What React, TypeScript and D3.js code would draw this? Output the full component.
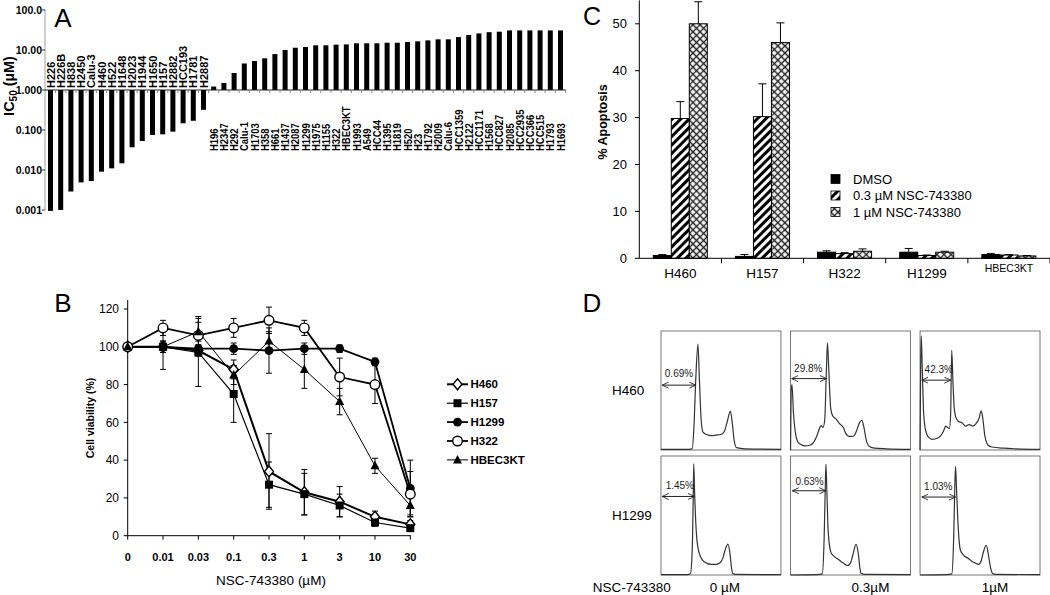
import React from "react";
import * as d3 from "d3";

const FONT = "'Liberation Sans', Arial, Helvetica, sans-serif";

// ---------------- Panel A data ----------------
const sensitiveLines = ["H226","H226B","H838","H2450","Calu-3","H460","H522","H1648","H2023","H1944","H1650","H157","H2882","HCC193","H1781","H2887"];
const sensitiveIC50 = [0.00095,0.001,0.0029,0.0049,0.0053,0.0091,0.011,0.0147,0.037,0.053,0.075,0.078,0.091,0.147,0.17,0.32];
const resistantLines = ["H196","H2347","H292","Calu-1","H1703","H358","H661","H1437","H2087","H1299","H1975","H1155","H322","HBEC3KT","H1993","A549","HCC44","H1395","H1819","H520","H23","H1792","H2009","Calu-6","HCC1359","H2122","HCC1171","H1568","HCC827","H2085","HCC2935","HCC366","HCC515","H1793","H1693"];
const resistantIC50 = [1.22,1.5,2.66,4.6,5.3,6.2,7.9,10,11.4,11.9,13.1,13.1,13.6,13.8,14.7,14.7,14.7,15.2,15.2,15.8,16.5,17.4,18.5,18.5,21,23.7,26,27.9,28.7,30.9,30.9,30.9,30.9,30.9,30.9];
const icTicks = [100, 10, 1, 0.1, 0.01, 0.001];
const icTickLabels = ["100.0","10.00","1.000","0.100","0.010","0.001"];

// ---------------- Panel B data ----------------
const doseLabels = ["0","0.01","0.03","0.1","0.3","1","3","10","30"];
const viabH460 = [100,100,98,88,34,23,18,10,6];
const errH460 = [0,3,3,5,20,12,8,3,2];
const viabH157 = [100,100,97,75,27,22,16,7,4];
const errH157 = [0,12,18,15,12,11,6,2,1];
const viabH1299 = [100,100,99,99,98,99,99,92,25];
const errH1299 = [0,2,2,3,12,3,2,2,15];
const viabH322 = [100,110,106,110,114,110,84,80,22];
const errH322 = [0,4,10,5,7,4,10,10,12];
const viabHBEC = [100,100,108,85,103,88,71,37,16];
const errHBEC = [0,3,5,5,5,10,7,4,5];
const viabTicks = [0,20,40,60,80,100,120];

// ---------------- Panel C data ----------------
const apoCells = ["H460","H157","H322","H1299","HBEC3KT"];
const apoTreatments = ["DMSO","0.3 µM NSC-743380","1 µM NSC-743380"];
const apoDMSO = [0.6,0.4,1.3,1.3,0.8];
const apoLow = [29.8,30.2,1.0,0.6,0.7];
const apoHigh = [50,46,1.5,1.3,0.5];
const apoDMSOErr = [0.2,0.4,0.3,0.8,0.2];
const apoLowErr = [3.6,7,0.2,0.1,0.1];
const apoHighErr = [4.7,4.2,0.5,0.2,0.1];
const apoTicks = [0,10,20,30,40,50];

// ---------------- Panel D data (DNA content %, count %) ----------------
const histRows = ["H460","H1299"];
const histCols = ["0 µM","0.3µM","1µM"];
const histH460_0: [number, number][] = [[0,0.5],[20,0.5],[26,1],[27.5,20],[29,60],[30.8,89],[32,60],[33.5,25],[35,15],[38,13],[42,12],[46,12.5],[50,13],[53,16],[55.5,25],[57.8,32.7],[59.5,22],[61,8],[63,2],[70,1],[100,0.5]];
const histH460_03: [number, number][] = [[0,0],[0.5,50],[1.2,55],[2.5,30],[4,15],[6,7],[8,5],[12,3.5],[16,4],[19,6],[22,12],[24.5,19],[25.5,20.6],[27,19],[28.5,25],[29.7,60],[30.8,90],[32,65],[33.5,35],[35,29],[38,26],[41,22],[44,19],[46,14],[48.7,11.5],[51,11.5],[53,12],[55,16],[57.5,23],[59.5,25],[61,20],[63,9],[65.8,3],[70,1.5],[80,1],[100,0.5]];
const histH460_1: [number, number][] = [[0,0],[0.5,70],[1,96],[1.8,70],[2.8,35],[4,20],[5.7,13],[8,10],[10,9],[13,9.5],[16,11],[18,13],[20,17],[21.3,20],[23,19],[24.5,18],[25.5,30],[26.4,83.8],[27.5,55],[28.5,35],[29.8,27.6],[32,24],[35,23],[38,20],[41,21.4],[44,20],[46.5,22],[49,26],[51,32.8],[52.5,25],[54,12],[56.8,4],[60,2.5],[70,1.5],[80,1],[100,0.5]];
const histH1299_0: [number, number][] = [[0,0.3],[22,0.3],[24.5,1],[26,20],[26.8,60],[27.3,93.5],[28,70],[29.5,35],[31,22],[32.9,15.6],[35,12],[38,10],[42,9],[46,9],[49,10],[51.5,14],[53.5,21],[55.8,26],[57.5,18],[58.8,6],[59.7,1.5],[62,0.5],[100,0.3]];
const histH1299_03: [number, number][] = [[0,0],[22,0.3],[26.5,1],[28,30],[29,75],[29.5,93],[30.3,70],[31.5,35],[33.7,19],[36,16],[40,13],[44,10],[47.6,8],[50,10],[52,17],[54.6,25.8],[56.5,18],[57.8,6],[58.8,1.5],[62,0.5],[100,0.3]];
const histH1299_1: [number, number][] = [[0,0],[22,0.3],[26.5,1],[28,30],[29,75],[29.6,91.4],[30.5,70],[31.8,40],[33.6,21],[36,17],[40,14],[44,11],[48.9,9],[51,12],[53,20],[55.2,25],[57,17],[58.8,6],[60.3,1.5],[63,0.5],[100,0.3]];
const subG1Labels = ["0.69%","29.8%","42.3%","1.45%","0.63%","1.03%"];
// label position (x%, y%) and arrow (from x%, to x%, at y%)
const subG1LabelPos: [number, number][] = [[15,64.5],[14.8,68.8],[15.6,67.5],[15.7,75],[15.9,78.8],[15.2,74.6]];
const subG1Arrows: [number, number, number][] = [[1,29,54.5],[1,30,60],[1.5,25.6,58.7],[1,27.9,66],[1.5,29.5,70.8],[1.5,29.6,65.5]];

type MarkerType = "diamond" | "square" | "dot" | "circle" | "triangle";

function Marker({ type, x, y }: { type: MarkerType; x: number; y: number }) {
  switch (type) {
    case "diamond":
      return <path d={`M${x},${y - 5.5}L${x + 4.5},${y}L${x},${y + 5.5}L${x - 4.5},${y}Z`} fill="white" stroke="black" strokeWidth={1.4} />;
    case "square":
      return <rect x={x - 4} y={y - 4} width={8} height={8} fill="black" />;
    case "dot":
      return <circle cx={x} cy={y} r={4.4} fill="black" />;
    case "circle":
      return <circle cx={x} cy={y} r={4.8} fill="white" stroke="black" strokeWidth={1.4} />;
    case "triangle":
      return <path d={`M${x},${y - 5}L${x + 4.5},${y + 3.5}L${x - 4.5},${y + 3.5}Z`} fill="black" />;
  }
  return null;
}

export default function App() {
  // ===== Panel A =====
  const allLines = [...sensitiveLines, ...resistantLines];
  const allIC50 = [...sensitiveIC50, ...resistantIC50];
  const xA = d3.scalePoint<string>().domain(allLines).range([50.5, 560.5]);
  const yA = d3.scaleLog().domain([0.001, 100]).range([210, 10]);
  const stepA = xA.step();
  const barWA = 5;
  const y1 = yA(1);

  // ===== Panel B =====
  const xB = d3.scalePoint<string>().domain(doseLabels).range([127.7, 410.3]);
  const yB = d3.scaleLinear().domain([0, 120]).range([535.7, 309]);
  const seriesB: { name: string; v: number[]; e: number[]; m: MarkerType; w: number }[] = [
    { name: "H460", v: viabH460, e: errH460, m: "diamond", w: 2 },
    { name: "H157", v: viabH157, e: errH157, m: "square", w: 1.2 },
    { name: "H1299", v: viabH1299, e: errH1299, m: "dot", w: 1.8 },
    { name: "H322", v: viabH322, e: errH322, m: "circle", w: 1.8 },
    { name: "HBEC3KT", v: viabHBEC, e: errHBEC, m: "triangle", w: 1 },
  ];
  const lineB = d3.line<number>().x((_, i) => xB(doseLabels[i])!).y((d) => yB(d));

  // ===== Panel C =====
  const xC = d3.scaleBand<string>().domain(apoCells).range([639.3, 1050]);
  const xCi = d3.scaleBand<string>().domain(apoTreatments).range([14, 68]);
  const yC = d3.scaleLinear().domain([0, 55]).range([258.3, 0.35]);
  const apoVals = [apoDMSO, apoLow, apoHigh];
  const apoErrs = [apoDMSOErr, apoLowErr, apoHighErr];
  const apoFills = ["black", "url(#hatch)", "url(#cross)"];

  // ===== Panel D =====
  const xD = d3.scaleBand<string>().domain(histCols).range([661, 1040]).paddingInner(0.074);
  const yD = d3.scaleBand<string>().domain(histRows).range([331, 575]).paddingInner(0.048);
  const hists = [histH460_0, histH460_03, histH460_1, histH1299_0, histH1299_03, histH1299_1];
  const colLabelOffsets = [4, 20, 15];

  return (
    <svg width={1050} height={595} style={{ position: "absolute", left: 0, top: 0, background: "white" }} fontFamily={FONT}>
      <defs>
        <pattern id="hatch" patternUnits="userSpaceOnUse" width={6} height={6} patternTransform="rotate(45)">
          <rect width={6} height={6} fill="white" />
          <line x1={1.5} y1={0} x2={1.5} y2={6} stroke="black" strokeWidth={3} />
        </pattern>
        <pattern id="cross" patternUnits="userSpaceOnUse" width={5} height={5} patternTransform="rotate(45)">
          <rect width={5} height={5} fill="white" />
          <path d="M0,2.5H5M2.5,0V5" stroke="#222" strokeWidth={1.3} />
        </pattern>
        <marker id="arrowhead" viewBox="0 0 8 8" refX={7.5} refY={4} markerWidth={7} markerHeight={7} orient="auto-start-reverse" markerUnits="userSpaceOnUse">
          <path d="M0,0.5L7.5,4L0,7.5" fill="none" stroke="#222" strokeWidth={1} />
        </marker>
      </defs>

      {/* ================= Panel A ================= */}
      <g>
        <text x={63} y={27} fontSize={26} textAnchor="middle">A</text>
        <line x1={45} x2={45} y1={yA(100)} y2={yA(0.001)} stroke="#888" strokeWidth={0.8} />
        {icTicks.map((t, i) => (
          <g key={t}>
            <line x1={42} x2={45} y1={yA(t)} y2={yA(t)} stroke="#333" strokeWidth={1} />
            <text x={42} y={yA(t)} dy="0.35em" textAnchor="end" fontSize={10.5} fontWeight="bold">{icTickLabels[i]}</text>
          </g>
        ))}
        <text transform={`translate(14,86) rotate(-90)`} textAnchor="middle" fontSize={14.5} fontWeight="bold">
          IC<tspan fontSize={10} dy={3}>50</tspan><tspan dy={-3}> (µM)</tspan>
        </text>
        {allLines.map((name, i) => {
          const v = allIC50[i];
          const cx = xA(name)!;
          const yv = yA(v);
          return (
            <rect key={name} x={cx - barWA / 2} width={barWA} y={Math.min(yv, y1)} height={Math.abs(yv - y1)} fill="black" />
          );
        })}
        <line x1={45} x2={566} y1={y1} y2={y1} stroke="#222" strokeWidth={1.2} />
        {allLines.map((name) => (
          <line key={"t" + name} x1={xA(name)! + stepA / 2} x2={xA(name)! + stepA / 2} y1={y1} y2={y1 + 3} stroke="#888" strokeWidth={1} />
        ))}
        {allLines.map((name, i) => {
          const cx = xA(name)!;
          const sensitive = i < sensitiveLines.length;
          const by = sensitive ? 88 : 151;
          const sc = sensitive ? 1 : 0.86;
          return (
            <text key={"l" + name} transform={`translate(${cx + 4},${by}) rotate(-90) scale(${sc},1)`} textAnchor="start" fontSize={11} fontWeight="bold">{name}</text>
          );
        })}
      </g>

      {/* ================= Panel B ================= */}
      <g>
        <text x={63} y={312} fontSize={26} textAnchor="middle">B</text>
        <line x1={127.7} x2={127.7} y1={yB(0)} y2={300} stroke="black" strokeWidth={1} />
        <line x1={127.7} x2={411} y1={yB(0)} y2={yB(0)} stroke="black" strokeWidth={1} />
        {viabTicks.map((t) => (
          <g key={t}>
            <line x1={123.7} x2={127.7} y1={yB(t)} y2={yB(t)} stroke="black" />
            <text x={119} y={yB(t)} dy="0.35em" textAnchor="end" fontSize={12}>{t}</text>
          </g>
        ))}
        {doseLabels.map((d) => (
          <g key={d}>
            <line x1={xB(d)!} x2={xB(d)!} y1={yB(0)} y2={yB(0) + 4} stroke="black" />
            <text x={xB(d)!} y={561} textAnchor="middle" fontSize={11} fontWeight="bold">{d}</text>
          </g>
        ))}
        <text x={271} y={585} textAnchor="middle" fontSize={13.5}>NSC-743380 (µM)</text>
        <text transform="translate(94,418) rotate(-90)" textAnchor="middle" fontSize={10.5} fontWeight="bold">Cell viability (%)</text>
        {seriesB.map((s) => (
          <path key={"ln" + s.name} d={lineB(s.v)!} fill="none" stroke="black" strokeWidth={s.w} />
        ))}
        {seriesB.map((s) =>
          s.v.map((v, i) => {
            if (!s.e[i]) return null;
            const x = xB(doseLabels[i])!;
            const top = yB(v + s.e[i]);
            const bot = yB(v - s.e[i]);
            return (
              <g key={"e" + s.name + i} stroke="black" strokeWidth={1}>
                <line x1={x} x2={x} y1={top} y2={bot} />
                <line x1={x - 3} x2={x + 3} y1={top} y2={top} />
                <line x1={x - 3} x2={x + 3} y1={bot} y2={bot} />
              </g>
            );
          })
        )}
        {seriesB.map((s) =>
          s.v.map((v, i) => <Marker key={"m" + s.name + i} type={s.m} x={xB(doseLabels[i])!} y={yB(v)} />)
        )}
        {seriesB.map((s, k) => {
          const ly = 384.3 + k * 18.9;
          return (
            <g key={"lg" + s.name}>
              <line x1={447} x2={468} y1={ly} y2={ly} stroke="black" strokeWidth={s.w} />
              <Marker type={s.m} x={457.5} y={ly} />
              <text x={470.5} y={ly} dy="0.35em" fontSize={11.5} fontWeight="bold">{s.name}</text>
            </g>
          );
        })}
      </g>

      {/* ================= Panel C ================= */}
      <g>
        <text x={592} y={25} fontSize={25} textAnchor="middle">C</text>
        <line x1={639.3} x2={639.3} y1={yC(0)} y2={yC(55)} stroke="black" strokeWidth={1} />
        {apoTicks.map((t) => (
          <g key={t}>
            <line x1={635} x2={639.3} y1={yC(t)} y2={yC(t)} stroke="black" />
            <text x={627} y={yC(t)} dy="0.35em" textAnchor="end" fontSize={13}>{t}</text>
          </g>
        ))}
        <text transform="translate(607,122) rotate(-90)" textAnchor="middle" fontSize={12.5} fontWeight="bold">% Apoptosis</text>
        {apoCells.map((c, ci) => (
          <g key={c}>
            {apoTreatments.map((t, ti) => {
              const v = apoVals[ti][ci];
              const e = apoErrs[ti][ci];
              const x = xC(c)! + xCi(t)!;
              const w = xCi.bandwidth();
              const cx = x + w / 2;
              return (
                <g key={t}>
                  <rect x={x} y={yC(v)} width={w} height={yC(0) - yC(v)} fill={apoFills[ti]} stroke="black" strokeWidth={1} />
                  <line x1={cx} x2={cx} y1={yC(v)} y2={yC(v + e)} stroke="black" strokeWidth={1} />
                  <line x1={cx - 4} x2={cx + 4} y1={yC(v + e)} y2={yC(v + e)} stroke="black" strokeWidth={1} />
                </g>
              );
            })}
            <text x={xC(c)! + xC.bandwidth() / 2} y={c === "HBEC3KT" ? 272 : 278} textAnchor="middle" fontSize={c === "HBEC3KT" ? 10.5 : 13.5}>{c}</text>
          </g>
        ))}
        <line x1={639.3} x2={1050} y1={yC(0)} y2={yC(0)} stroke="black" strokeWidth={1} />
        {apoCells.map((c) => (
          <line key={"tk" + c} x1={xC(c)! + xC.bandwidth()} x2={xC(c)! + xC.bandwidth()} y1={yC(0)} y2={yC(0) + 5} stroke="black" />
        ))}
        {apoTreatments.map((t, ti) => {
          const ly = 179 + ti * 16.5;
          return (
            <g key={"lg" + t}>
              <rect x={831} y={ly - 4.5} width={9} height={9} fill={apoFills[ti]} stroke="black" strokeWidth={0.8} />
              <text x={853} y={ly} dy="0.35em" fontSize={13}>{t}</text>
            </g>
          );
        })}
      </g>

      {/* ================= Panel D ================= */}
      <g>
        <text x={592} y={312} fontSize={26} textAnchor="middle">D</text>
        {histRows.map((r) => (
          <text key={r} x={612} y={yD(r)! + yD.bandwidth() / 2} dy="0.35em" fontSize={13.5}>{r}</text>
        ))}
        {histRows.map((r, ri) =>
          histCols.map((c, ci) => {
            const k = ri * 3 + ci;
            const x0 = xD(c)!;
            const y0 = yD(r)!;
            const w = xD.bandwidth();
            const h = yD.bandwidth();
            const sx = d3.scaleLinear().domain([0, 100]).range([x0, x0 + w]);
            const sy = d3.scaleLinear().domain([0, 100]).range([y0 + h, y0]);
            const ln = d3.line<[number, number]>().x((d) => sx(d[0])).y((d) => sy(d[1])).curve(d3.curveMonotoneX);
            const [ax1, ax2, ay] = subG1Arrows[k];
            const [lx, lyy] = subG1LabelPos[k];
            return (
              <g key={r + c}>
                <rect x={x0} y={y0} width={w} height={h} fill="white" stroke="#777" strokeWidth={1} />
                <path d={ln(hists[k])!} fill="none" stroke="#333" strokeWidth={1.2} />
                <line x1={sx(ax1)} x2={sx(ax2)} y1={sy(ay)} y2={sy(ay)} stroke="#222" strokeWidth={1} markerStart="url(#arrowhead)" markerEnd="url(#arrowhead)" />
                <text x={sx(lx)} y={sy(lyy)} dy="0.35em" textAnchor="middle" fontSize={10} fill="#222">{subG1Labels[k]}</text>
              </g>
            );
          })
        )}
        <text x={592.7} y={592} fontSize={13.5}>NSC-743380</text>
        {histCols.map((c, ci) => (
          <text key={c} x={xD(c)! + xD.bandwidth() / 2 + colLabelOffsets[ci]} y={592} textAnchor="middle" fontSize={13.5}>{c}</text>
        ))}
      </g>
    </svg>
  );
}
